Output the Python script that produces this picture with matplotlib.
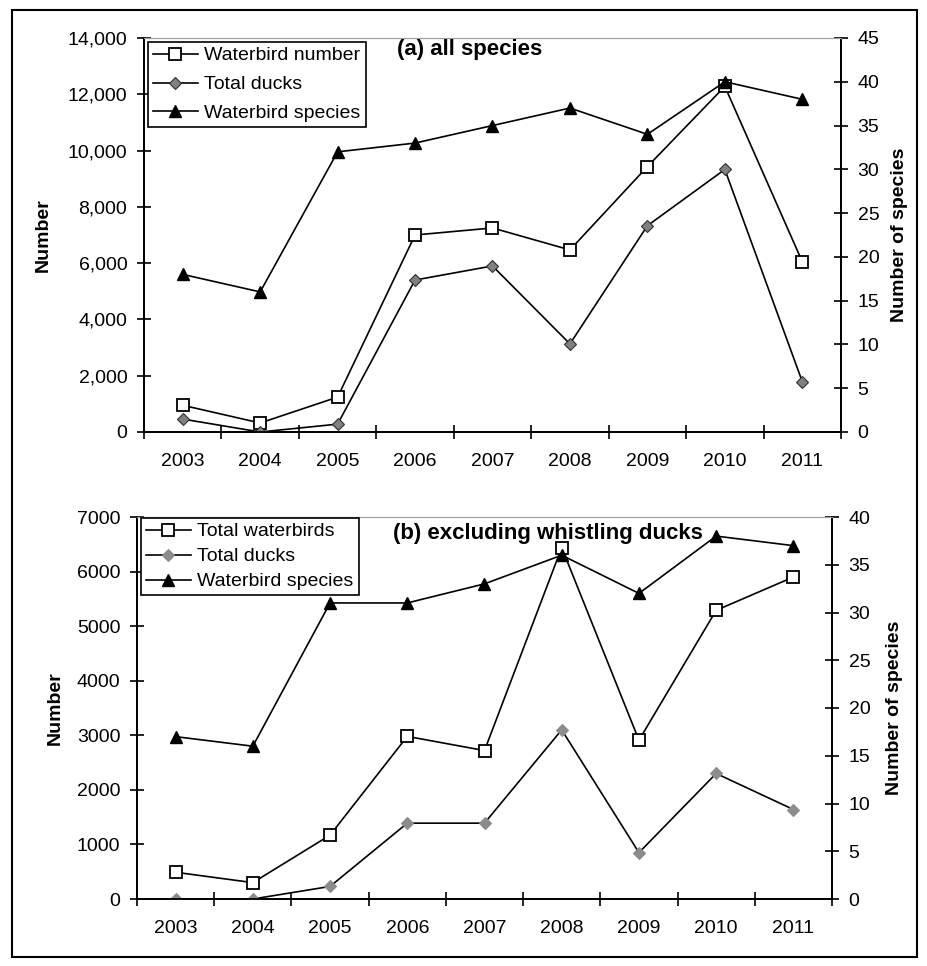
import numpy as np
import matplotlib.pyplot as plt
from matplotlib.patches import Rectangle
from matplotlib.ticker import FuncFormatter, FixedLocator

plt.rcParams['font.family'] = ['Liberation Sans', 'DejaVu Sans']

years = ['2003', '2004', '2005', '2006', '2007', '2008', '2009', '2010', '2011']

# (a) all species
a_waterbirds = [950, 320, 1240, 7000, 7250, 6470, 9430, 12280, 6050]
a_ducks = [460, 0, 280, 5400, 5900, 3130, 7330, 9330, 1790]
a_species = [18, 16, 32, 33, 35, 37, 34, 40, 38]

# (b) excluding whistling ducks
b_waterbirds = [490, 300, 1170, 2980, 2720, 6440, 2910, 5290, 5900]
b_ducks = [0, 0, 230, 1390, 1390, 3100, 850, 2300, 1640]
b_species = [17, 16, 31, 31, 33, 36, 32, 38, 37]

W, H = 927, 966
fig = plt.figure(figsize=(W / 100, H / 100), dpi=100)
x = np.arange(len(years))
TICK_FS = 14


def px_axes(left, top, right, bottom):
    return fig.add_axes([left / W, 1 - bottom / H, (right - left) / W, (bottom - top) / H])


def style_axes(ax, ax2):
    ax.set_xlim(-0.5, len(years) - 0.5)
    ax.set_xticks(x)
    ax.set_xticklabels(years)
    ax.xaxis.set_minor_locator(FixedLocator(np.arange(-0.5, len(years), 1.0)))
    ax.tick_params(axis='x', which='major', length=0, labelsize=TICK_FS, pad=15)
    ax.tick_params(axis='x', which='minor', direction='inout', length=10, width=1.2)
    ax.tick_params(axis='y', direction='inout', length=10, width=1.2, labelsize=TICK_FS, pad=7)
    ax2.tick_params(axis='y', direction='inout', length=10, width=1.2, labelsize=TICK_FS, pad=7)
    for a in (ax, ax2):
        a.spines['top'].set_color('#a0a0a0')
        a.spines['top'].set_linewidth(0.8)
        for s in ('left', 'right', 'bottom'):
            a.spines[s].set_linewidth(1.3)


def draw_panel(ax, wb, ducks, species, wb_label, duck_color, duck_edge):
    ax2 = ax.twinx()
    l1, = ax.plot(x, wb, color='black', lw=1.2, marker='s', ms=9,
                  mfc='white', mec='black', mew=1.3, label=wb_label, zorder=3)
    l2, = ax.plot(x, ducks, color='black', lw=1.2, marker='D', ms=6.5,
                  mfc=duck_color, mec=duck_edge, mew=0.8, label='Total ducks', zorder=3)
    l3, = ax2.plot(x, species, color='black', lw=1.2, marker='^', ms=9,
                   mfc='black', mec='black', label='Waterbird species', zorder=3)
    style_axes(ax, ax2)
    return ax2, [l1, l2, l3]


def add_legend(ax, handles, left, top, spacing):
    leg = ax.legend(handles=handles, loc='upper left',
                    bbox_to_anchor=(left / W, 1 - top / H), bbox_transform=fig.transFigure,
                    fontsize=14, frameon=True, fancybox=False, edgecolor='black',
                    framealpha=1, handlelength=2.3, handletextpad=0.35,
                    borderpad=0.25, labelspacing=spacing, borderaxespad=0)
    leg.get_frame().set_linewidth(1.2)


# panel (a)
axa = px_axes(144, 38, 841, 432)
axa2, handles = draw_panel(axa, a_waterbirds, a_ducks, a_species,
                           'Waterbird number', '#808080', '#303030')
axa.set_ylim(0, 14000)
axa.set_yticks(np.arange(0, 14001, 2000))
axa.yaxis.set_major_formatter(FuncFormatter(lambda v, p: f'{v:,.0f}'))
axa2.set_ylim(0, 45)
axa2.set_yticks(np.arange(0, 46, 5))
axa.set_ylabel('Number', fontsize=14, fontweight='bold')
axa.yaxis.set_label_coords(-0.132, 0.5)
axa2.set_ylabel('Number of species', fontsize=14, fontweight='bold')
axa2.yaxis.set_label_coords(1.072, 0.5)
fig.text(397 / W, 1 - 50 / H, '(a) all species', fontsize=16,
         fontweight='bold', ha='left', va='center')
add_legend(axa2, handles, 148, 42, 0.58)

# panel (b)
axb = px_axes(137, 517, 832, 899)
axb2, handles = draw_panel(axb, b_waterbirds, b_ducks, b_species,
                           'Total waterbirds', '#8c8c8c', '#8c8c8c')
axb.set_ylim(0, 7000)
axb.set_yticks(np.arange(0, 7001, 1000))
axb2.set_ylim(0, 40)
axb2.set_yticks(np.arange(0, 41, 5))
axb.set_ylabel('Number', fontsize=14, fontweight='bold')
axb.yaxis.set_label_coords(-0.105, 0.5)
axb2.set_ylabel('Number of species', fontsize=14, fontweight='bold')
axb2.yaxis.set_label_coords(1.078, 0.5)
fig.text(393 / W, 1 - 533 / H, '(b) excluding whistling ducks', fontsize=16,
         fontweight='bold', ha='left', va='center')
add_legend(axb2, handles, 141, 518, 0.38)

# outer frame round the whole figure
fig.patches.append(Rectangle((12 / W, 1 - 957 / H), 905 / W, 947 / H,
                             transform=fig.transFigure, fill=False,
                             edgecolor='black', linewidth=1.5))

fig.savefig('out.png', dpi=100)
